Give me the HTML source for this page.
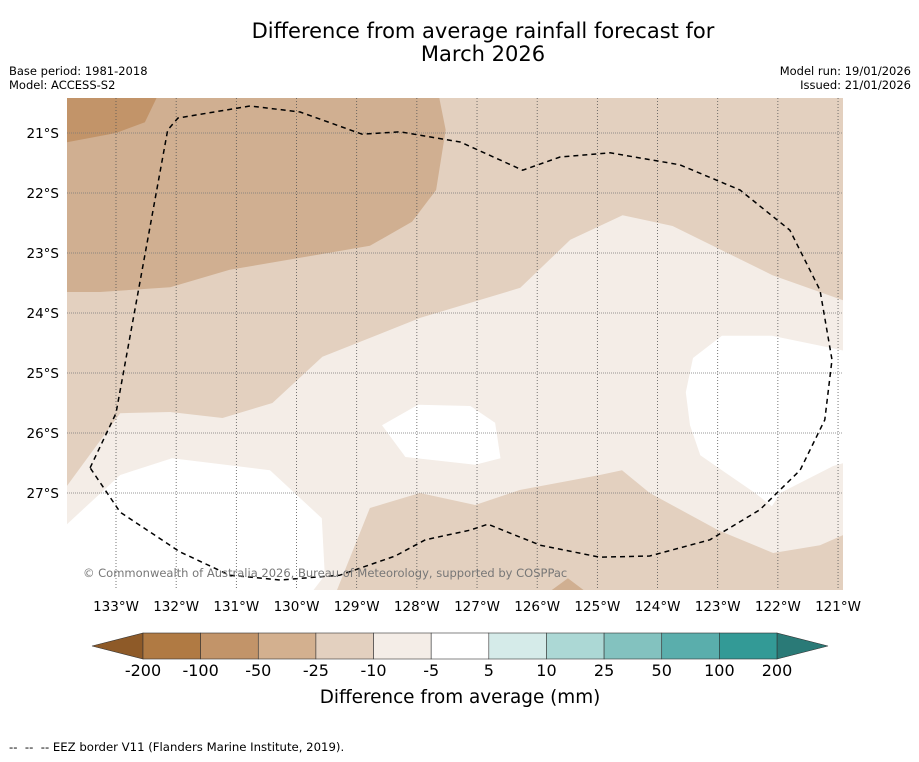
<!DOCTYPE html>
<html><head><meta charset="utf-8"><style>
body{margin:0;background:#fff;width:919px;height:758px;overflow:hidden;font-family:"DejaVu Sans","Liberation Sans",sans-serif}
</style></head><body>
<svg width="919" height="758" xmlns="http://www.w3.org/2000/svg" font-family="DejaVu Sans, Liberation Sans, sans-serif">
<text x="483" y="38" font-size="21" text-anchor="middle">Difference from average rainfall forecast for</text>
<text x="483" y="61" font-size="21" text-anchor="middle">March 2026</text>
<text x="9" y="75" font-size="11.5">Base period: 1981-2018</text>
<text x="9" y="89" font-size="11.5">Model: ACCESS-S2</text>
<text x="911" y="75" font-size="11.5" text-anchor="end">Model run: 19/01/2026</text>
<text x="911" y="89" font-size="11.5" text-anchor="end">Issued: 21/01/2026</text>
<defs><clipPath id="mc"><rect x="67" y="98" width="776" height="492"/></clipPath></defs>
<g id="map" clip-path="url(#mc)"></g>
<g id="axes"></g>
<g id="cbar"></g>
<text x="460" y="703" font-size="18.4" text-anchor="middle">Difference from average (mm)</text>
<text x="9" y="751" font-size="11.7">--&#160; --&#160; -- EEZ border V11 (Flanders Marine Institute, 2019).</text>
</svg>
<script>
// Data: tick values and colour levels
const lonTicks=[133,132,131,130,129,128,127,126,125,124,123,122,121];
const latTicks=[21,22,23,24,25,26,27];
const levels=["-200","-100","-50","-25","-10","-5","5","10","25","50","100","200"];
const levelColors=["#b07a43","#c29469","#d3b08f","#e3d0bf","#f4ede7","#ffffff","#d5ebe9","#acd8d5","#83c2bf","#5aaeac","#339a96"];
// contour polygons in [lonW, latS]
const regionBg=[[133.9,20.3],[120.8,20.3],[120.8,28.7],[133.9,28.7]];
const regionDark=[[133.9,20.3],[127.65,20.3],[127.52,20.95],[127.68,21.95],[128.08,22.48],[128.78,22.88],[129.94,23.08],[131.11,23.28],[132.1,23.57],[133.27,23.65],[133.9,23.65]];
const regionDarkest=[[133.9,20.3],[132.27,20.3],[132.52,20.82],[133.0,21.0],[133.9,21.17]];
const regionLight=[[133.9,27.0],[132.93,25.67],[132.1,25.65],[131.23,25.75],[130.4,25.5],[129.57,24.73],[127.94,24.08],[126.28,23.58],[125.45,22.78],[124.58,22.37],[123.75,22.55],[122.09,23.37],[120.8,23.83],[120.8,27.65],[121.3,27.87],[122.08,28.0],[122.99,27.62],[124.13,27.0],[124.59,26.62],[124.96,26.7],[126.29,26.95],[127.03,27.2],[127.95,27.0],[128.78,27.25],[129.36,28.7],[133.9,28.7]];
const regionWhite1=[[133.9,27.6],[132.93,26.7],[132.07,26.42],[130.44,26.62],[129.58,27.42],[129.53,28.37],[129.78,28.7],[133.9,28.7]];
const regionWhite2=[[128.58,25.87],[127.98,25.53],[127.11,25.55],[126.7,25.83],[126.61,26.42],[127.03,26.53],[128.19,26.4]];
const regionWhite3=[[122.93,24.38],[122.1,24.38],[121.13,24.58],[120.8,24.65],[120.8,26.47],[121.08,26.55],[121.96,27.0],[122.1,27.22],[122.38,27.0],[122.99,26.58],[123.29,26.37],[123.46,25.87],[123.53,25.32],[123.41,24.75]];
const regionDarkBottom=[[125.87,28.7],[125.49,28.42],[125.12,28.7]];
const eez=[[133.43,26.58],[133.0,25.67],[132.14,20.95],[131.97,20.75],[130.77,20.55],[129.94,20.65],[128.91,21.02],[128.28,20.98],[127.28,21.15],[126.24,21.62],[125.62,21.4],[124.79,21.33],[123.63,21.53],[122.63,21.95],[121.8,22.62],[121.3,23.62],[121.1,24.78],[121.22,25.78],[121.63,26.62],[122.3,27.28],[123.13,27.78],[124.13,28.05],[124.96,28.07],[125.95,27.87],[126.82,27.52],[127.12,27.62],[127.86,27.78],[128.36,28.05],[129.28,28.37],[130.27,28.45],[131.11,28.37],[131.94,27.98],[132.93,27.32],[133.43,26.58]];

const X=lon=>116+(133-lon)*60.17;
const Y=lat=>133+(lat-21)*60;
const NS="http://www.w3.org/2000/svg";
const map=document.getElementById('map'),axes=document.getElementById('axes'),cbar=document.getElementById('cbar');
function mk(tag,attrs,parent){const e=document.createElementNS(NS,tag);for(const k in attrs)e.setAttribute(k,attrs[k]);parent.appendChild(e);return e;}
const pts=a=>a.map(p=>X(p[0]).toFixed(1)+','+Y(p[1]).toFixed(1)).join(' ');
function region(a,color,name){const p=mk('polygon',{points:pts(a),fill:color},map);

}
region(regionBg,levelColors[3],'region-minus25-minus10');
region(regionDark,"#d0af91",'region-minus50-minus25');
region(regionDarkest,levelColors[1],'region-minus100-minus50');
region(regionLight,levelColors[4],'region-minus10-minus5');
region(regionWhite1,levelColors[5],'region-near-average-sw');
region(regionWhite2,levelColors[5],'region-near-average-centre');
region(regionWhite3,levelColors[5],'region-near-average-east');
region(regionDarkBottom,"#d0af91",'region-minus50-bottom');
// grid
lonTicks.forEach(l=>{const g=mk('line',{x1:X(l),x2:X(l),y1:98,y2:590,stroke:'#555','stroke-width':0.8,'stroke-dasharray':'1,2'},map);


const t=mk('text',{x:X(l),y:611,'font-size':13.5,'text-anchor':'middle'},axes);t.textContent=l+'°W';

});
latTicks.forEach(l=>{const g=mk('line',{x1:67,x2:843,y1:Y(l),y2:Y(l),stroke:'#777','stroke-width':0.8,'stroke-dasharray':'1,1'},map);


const t=mk('text',{x:59,y:Y(l)+5,'font-size':13.5,'text-anchor':'end'},axes);t.textContent=l+'°S';

});
const ez=mk('polyline',{points:pts(eez),fill:'none',stroke:'#000','stroke-width':1.5,'stroke-dasharray':'5,4','stroke-linejoin':'round'},map);


const cp=mk('text',{x:83,y:577,'font-size':11.5,fill:'#777'},map);cp.textContent='© Commonwealth of Australia 2026, Bureau of Meteorology, supported by COSPPac';


// colorbar
const cx0=143,cw=(777-143)/11,cy=633,ch=26;
const la=mk('polygon',{points:`${cx0},${cy} ${cx0},${cy+ch} 92,${cy+ch/2}`,fill:'#8e5a28',stroke:'#333','stroke-width':0.6},cbar);


const ra=mk('polygon',{points:`777,${cy} 777,${cy+ch} 828,${cy+ch/2}`,fill:'#2a7a77',stroke:'#333','stroke-width':0.6},cbar);


levelColors.forEach((c,i)=>{const r=mk('rect',{x:cx0+i*cw,y:cy,width:cw,height:ch,fill:c,stroke:'#333','stroke-width':0.6},cbar);

});
levels.forEach((s,i)=>{const t=mk('text',{x:cx0+i*cw,y:676,'font-size':16,'text-anchor':'middle'},cbar);t.textContent=s;

});
</script>
</body></html>
